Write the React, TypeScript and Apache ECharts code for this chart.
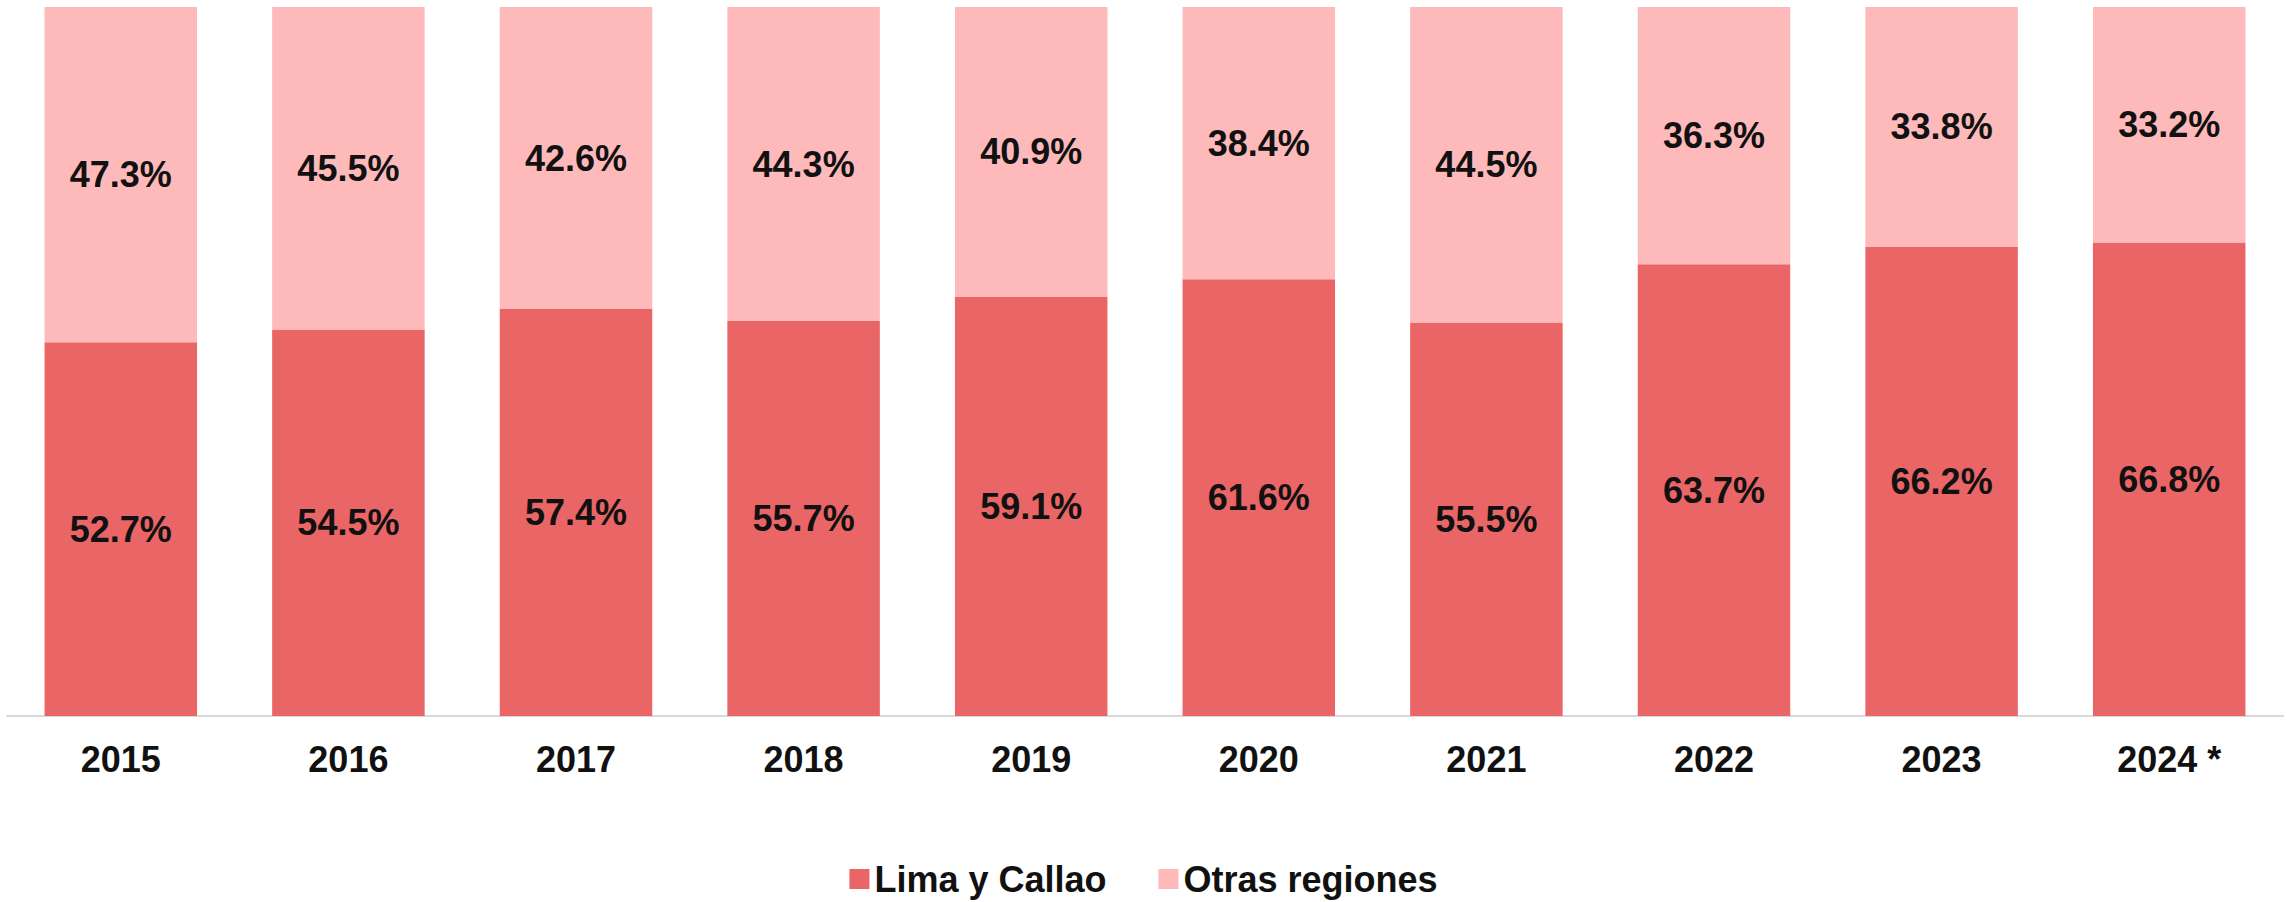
import React, { useEffect, useRef } from "react";
import * as echarts from "echarts";

const categories = ["2015", "2016", "2017", "2018", "2019", "2020", "2021", "2022", "2023", "2024 *"];
const limaCallao = [52.7, 54.5, 57.4, 55.7, 59.1, 61.6, 55.5, 63.7, 66.2, 66.8];
const otrasRegiones = [47.3, 45.5, 42.6, 44.3, 40.9, 38.4, 44.5, 36.3, 33.8, 33.2];

const FONT = "'Liberation Sans', Arial, sans-serif";

export default function App() {
  const ref = useRef<HTMLDivElement>(null);
  useEffect(() => {
    if (!ref.current) return;
    const chart = echarts.init(ref.current, null, { renderer: "svg" });
    const label = {
      show: true,
      position: "inside" as const,
      fontFamily: FONT,
      fontSize: 36,
      fontWeight: "bold" as const,
      color: "#111111",
      formatter: (p: any) => Number(p.value).toFixed(1) + "%",
    };
    chart.setOption({
      animation: false,
      grid: { left: 7, right: 4, top: 7, bottom: 186, containLabel: false },
      legend: {
        top: 856,
        left: "center",
        padding: 5,
        itemWidth: 20,
        itemHeight: 20,
        itemGap: 52,
        icon: "rect",
        textStyle: { fontFamily: FONT, fontSize: 36, fontWeight: "bold", color: "#111111", lineHeight: 36 },
        data: ["Lima y Callao", "Otras regiones"],
      },
      xAxis: {
        type: "category",
        data: categories,
        axisLine: { show: true, lineStyle: { color: "#D9D9D9", width: 2 } },
        axisTick: { show: false },
        axisLabel: {
          fontFamily: FONT,
          fontSize: 36,
          fontWeight: "bold",
          color: "#111111",
          margin: 25,
          interval: 0,
        },
      },
      yAxis: {
        type: "value",
        min: 0,
        max: 100,
        show: false,
        splitLine: { show: false },
      },
      series: [
        {
          name: "Lima y Callao",
          type: "bar",
          stack: "total",
          data: limaCallao,
          barCategoryGap: "33%",
          itemStyle: { color: "#EA6566" },
          label,
        },
        {
          name: "Otras regiones",
          type: "bar",
          stack: "total",
          data: otrasRegiones,
          barCategoryGap: "33%",
          itemStyle: { color: "#FEB9BA" },
          label,
        },
      ],
    });
    return () => chart.dispose();
  }, []);
  return (
    <div
      ref={ref}
      style={{ position: "fixed", left: 0, top: 0, width: 2287, height: 902, background: "#ffffff" }}
    />
  );
}
